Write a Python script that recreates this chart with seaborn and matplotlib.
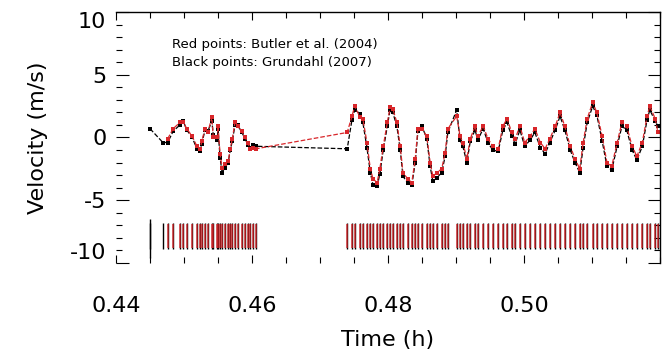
import numpy as np
import pandas as pd
import matplotlib
matplotlib.use("Agg")
import matplotlib.pyplot as plt
import seaborn as sns
import matplotlib.ticker as ticker

# observation times (h), two chunks of the night
seg1_time = [0.4476, 0.4484, 0.4494, 0.4499, 0.4504, 0.4512, 0.4519, 0.4524, 0.4526, 0.4531,
             0.4535, 0.4541, 0.4543, 0.4549, 0.4550, 0.4553, 0.4556, 0.4560, 0.4565, 0.4568,
             0.4571, 0.4575, 0.4579, 0.4585, 0.4590, 0.4594, 0.4597, 0.4601, 0.4606]
seg2_time = [0.4740, 0.4747, 0.4751, 0.4759, 0.4763, 0.4769, 0.4774, 0.4778, 0.4784, 0.4788,
             0.4793, 0.4799, 0.4803, 0.4807, 0.4813, 0.4818, 0.4822, 0.4829, 0.4835, 0.4840,
             0.4844, 0.4850, 0.4857, 0.4862, 0.4866, 0.4872, 0.4879, 0.4884, 0.4888, 0.4901,
             0.4906, 0.4910, 0.4916, 0.4921, 0.4928, 0.4932, 0.4940, 0.4947, 0.4954, 0.4962,
             0.4969, 0.4975, 0.4982, 0.4987, 0.4994, 0.5001, 0.5009, 0.5016, 0.5024, 0.5031,
             0.5038, 0.5046, 0.5053, 0.5060, 0.5068, 0.5075, 0.5082, 0.5087, 0.5093, 0.5101,
             0.5107, 0.5115, 0.5122, 0.5129, 0.5137, 0.5144, 0.5151, 0.5159, 0.5166, 0.5174,
             0.5181, 0.5185, 0.5193, 0.5197]
black_start_time = [0.4450, 0.4469]

# Butler et al. (2004) velocities (m/s)
red_vel1 = [-0.1, 0.7, 1.2, 1.2, 0.7, 0.1, -0.7, -0.9, -0.3, 0.7,
            0.4, 1.6, 0.0, 0.0, 0.9, -1.3, -2.4, -2.1, -1.9, -0.9,
            -0.1, 1.2, 0.9, 0.5, 0.0, -0.4, -0.9, -0.8, -0.9]
red_vel2 = [0.4, 1.7, 2.5, 1.6, 1.5, -0.4, -2.5, -3.3, -3.6, -2.5,
            -0.7, 1.2, 2.4, 2.3, 1.2, -0.7, -2.8, -3.3, -3.6, -1.7,
            0.7, 0.7, 0.1, -2.0, -3.1, -2.8, -2.5, -1.2, 0.7, 1.7,
            0.1, -0.4, -1.7, -0.1, 0.9, 0.1, 0.9, -0.1, -0.7, -0.9,
            0.9, 1.5, 0.4, -0.1, 0.9, -0.4, 0.1, 0.7, -0.4, -0.9,
            -0.1, 0.9, 2.0, 0.9, -0.7, -1.7, -2.5, -0.4, 1.5, 2.8,
            2.0, 0.1, -2.0, -2.3, -0.4, 1.2, 0.9, -0.7, -1.5, -0.4,
            1.7, 2.5, 1.5, 0.4]

# Grundahl (2007) velocities (m/s)
black_vel0 = [0.7, -0.4]
black_vel1 = [-0.4, 0.5, 1.0, 1.3, 0.6, 0.0, -0.9, -1.1, -0.5, 0.6,
              0.5, 1.3, 0.2, -0.2, 0.7, -1.6, -2.8, -2.4, -2.0, -1.0,
              -0.3, 1.0, 1.0, 0.4, -0.1, -0.6, -0.8, -0.6, -0.7]
black_vel2 = [-0.9, 1.4, 2.2, 1.9, 1.2, -0.8, -2.8, -3.8, -3.9, -2.9,
              -1.0, 0.9, 2.2, 2.0, 0.9, -1.0, -3.1, -3.6, -3.8, -2.0,
              0.5, 0.9, -0.1, -2.3, -3.5, -3.2, -2.8, -1.5, 0.4, 2.2,
              -0.2, -0.7, -2.0, -0.3, 0.6, -0.2, 0.7, -0.4, -1.0, -1.1,
              0.6, 1.2, 0.1, -0.5, 0.6, -0.7, -0.2, 0.4, -0.8, -1.3,
              -0.4, 0.6, 1.7, 0.6, -1.0, -2.0, -2.8, -0.8, 1.2, 2.5,
              1.8, -0.3, -2.3, -2.6, -0.7, 0.9, 0.6, -1.0, -1.8, -0.7,
              1.4, 2.2, 1.3, 0.9]

red = pd.DataFrame({"t": seg1_time + seg2_time, "v": red_vel1 + red_vel2})
black = pd.DataFrame({"t": black_start_time + seg1_time + seg2_time,
                      "v": black_vel0 + black_vel1 + black_vel2})

RED = "#d8262a"

sns.set_style("ticks")
plt.rcParams["font.family"] = ["DejaVu Sans"]
plt.rcParams["axes.unicode_minus"] = False
plt.rcParams["text.color"] = "black"
plt.rcParams["axes.labelcolor"] = "black"
plt.rcParams["xtick.color"] = "black"
plt.rcParams["ytick.color"] = "black"
plt.rcParams["axes.edgecolor"] = "black"

fig = plt.figure(figsize=(6.71, 3.55), dpi=100)
ax = fig.add_axes([0.1729, 0.2592, 0.8107, 0.7070])

sns.lineplot(data=black, x="t", y="v", ax=ax, sort=False, estimator=None,
             color="black", linestyle="--", linewidth=0.9, marker="s",
             markersize=2.4, markeredgewidth=0, dashes=False)
sns.lineplot(data=red, x="t", y="v", ax=ax, sort=False, estimator=None,
             color=RED, linestyle="--", linewidth=0.9, marker="s",
             markersize=2.4, markeredgewidth=0, dashes=False)

# time stamps of the spectra along the bottom
ax.vlines(black["t"], -8.9, -6.8, color="black", linewidth=1.0)
ax.vlines(red["t"], -8.8, -6.9, color=RED, linewidth=1.4, alpha=0.7)
ax.vlines(black["t"].iloc[:1], -9.6, -6.5, color="black", linewidth=1.0)

ax.text(0.4482, 7.4, "Red points: Butler et al. (2004)", fontsize=9.5, va="center")
ax.text(0.4482, 6.0, "Black points: Grundahl (2007)", fontsize=9.5, va="center")

ax.set_xlim(0.44, 0.52)
ax.set_ylim(-10, 10)
ax.xaxis.set_major_locator(ticker.FixedLocator([0.44, 0.46, 0.48, 0.50]))
ax.xaxis.set_major_formatter(ticker.FormatStrFormatter("%.2f"))
ax.xaxis.set_minor_locator(ticker.MultipleLocator(0.005))
ax.yaxis.set_major_locator(ticker.MultipleLocator(5))
ax.yaxis.set_minor_locator(ticker.MultipleLocator(1))

ax.tick_params(which="both", direction="in", top=True, right=True, color="black")
ax.tick_params(axis="x", which="major", length=6, width=0.8, pad=24, labelsize=16)
ax.tick_params(axis="x", which="minor", length=4, width=0.8)
ax.tick_params(axis="y", which="major", length=9, width=0.8, pad=7, labelsize=16)
ax.tick_params(axis="y", which="minor", length=4, width=0.8)

for lab, val in zip(ax.get_yticklabels(), ax.get_yticks()):
    if val >= 10:
        lab.set_verticalalignment("top")
    elif val <= -10:
        lab.set_verticalalignment("bottom")

ax.spines["left"].set_visible(False)
ax.spines["bottom"].set_visible(False)
ax.spines["top"].set_linewidth(1.0)
ax.spines["right"].set_linewidth(1.0)

ax.set_xlabel("Time (h)", fontsize=16, labelpad=10)
ax.set_ylabel("Velocity (m/s)", fontsize=16, labelpad=16)

fig.savefig("out.png", dpi=100)
